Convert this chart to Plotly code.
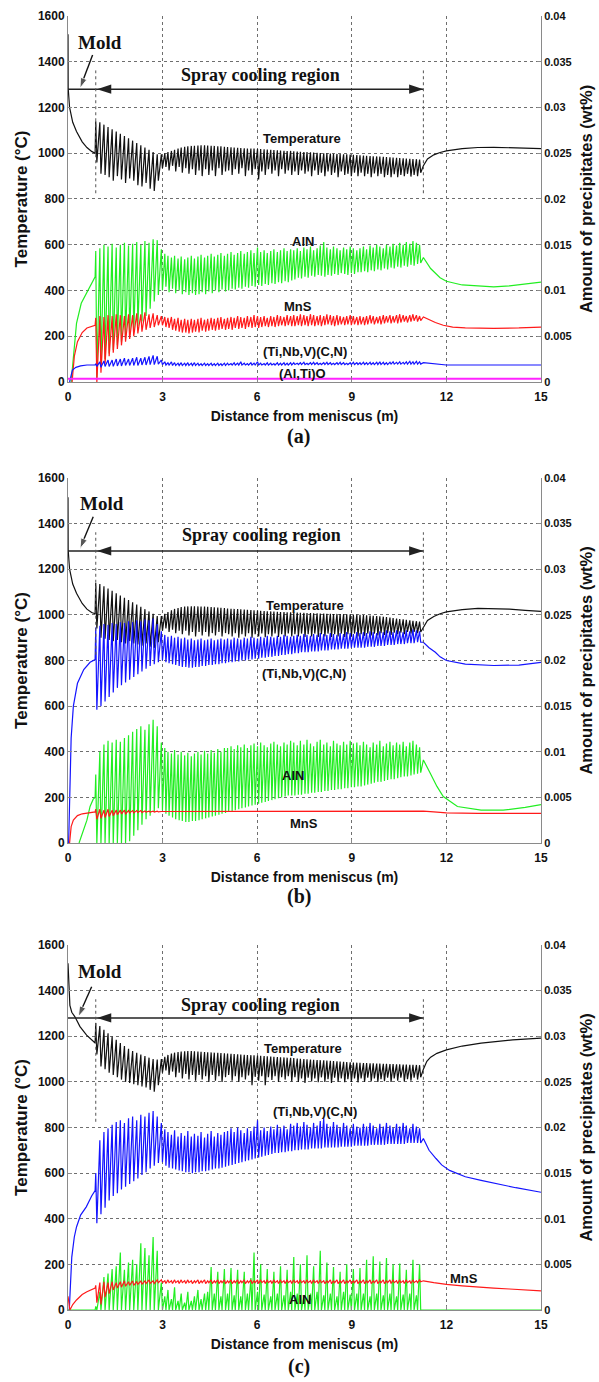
import plotly.graph_objects as go

# ---------------- data ----------------
# roll / spray-nozzle positions (m) inside the spray cooling region
ROLL_X = [0.88, 1.01, 1.14, 1.27, 1.40, 1.53, 1.66, 1.79, 1.92, 2.05, 2.18, 2.31, 2.44, 2.57, 2.70, 2.83,
          2.96, 3.07, 3.17, 3.28, 3.38, 3.49, 3.59, 3.70, 3.80, 3.91, 4.01, 4.12, 4.22, 4.33, 4.43, 4.54, 4.64, 4.75, 4.85, 4.96,
          5.06, 5.17, 5.27, 5.38, 5.48, 5.59, 5.69, 5.80, 5.90, 6.01, 6.11, 6.22, 6.32, 6.43, 6.53, 6.64, 6.74, 6.85, 6.95, 7.06,
          7.16, 7.27, 7.37, 7.48, 7.58, 7.69, 7.79, 7.90, 8.00, 8.11, 8.21, 8.32, 8.42, 8.53, 8.63, 8.74, 8.84, 8.95, 9.05, 9.16,
          9.26, 9.37, 9.47, 9.58, 9.68, 9.79, 9.89, 10.00, 10.10, 10.21, 10.31, 10.42, 10.52, 10.63, 10.73, 10.84, 10.94, 11.05, 11.15]
DX = 0.035          # offset of the dip after each roll
SPRAY_START = 0.88
SPRAY_END = 11.27
ARROW_Y = 1280

X_TICKS = [0, 3, 6, 9, 12, 15]
T_TICKS = [0, 200, 400, 600, 800, 1000, 1200, 1400, 1600]
P_TICKS = [0, 0.005, 0.01, 0.015, 0.02, 0.025, 0.03, 0.035, 0.04]
P_TICKTEXT = ["0", "0.005", "0.01", "0.015", "0.02", "0.025", "0.03", "0.035", "0.04"]

# ----- panel (a) -----  temperatures in degC, precipitates in 1e-4 wt%
TEMP_A_PRE_X = [0, 0.005, 0.05, 0.15, 0.27, 0.45, 0.6, 0.75, 0.86]
TEMP_A_PRE_Y = [1520, 1285, 1200, 1135, 1095, 1050, 1025, 1008, 1000]
TEMP_A_PEAK = [1140, 1135, 1125, 1115, 1105, 1095, 1085, 1075, 1065, 1055, 1045, 1035, 1025, 1015, 1005, 995,
               995, 1000, 1005, 1010, 1015, 1020, 1025, 1028, 1030, 1032, 1033, 1034, 1035, 1035, 1034, 1033, 1032, 1030, 1030, 1028,
               1027, 1026, 1025, 1024, 1023, 1022, 1021, 1020, 1020, 1019, 1018, 1017, 1016, 1015, 1014, 1013, 1012, 1011, 1010, 1010,
               1008, 1007, 1006, 1005, 1005, 1004, 1003, 1002, 1001, 1000, 1000, 999, 998, 997, 996, 995, 995, 994, 993, 992,
               991, 990, 989, 988, 987, 986, 985, 984, 983, 982, 981, 980, 979, 978, 977, 976, 975, 974, 972]
TEMP_A_TROUGH = [960, 910, 905, 895, 880, 900, 885, 870, 890, 880, 860, 855, 870, 845, 835, 880,
                 935, 940, 925, 945, 920, 940, 915, 935, 910, 930, 905, 925, 900, 930, 905, 925, 900, 935, 905, 920,
                 925, 905, 930, 910, 935, 900, 925, 905, 930, 885, 920, 905, 930, 910, 925, 900, 930, 910, 925, 905,
                 920, 905, 925, 910, 920, 900, 925, 905, 915, 900, 920, 905, 915, 895, 920, 905, 910, 900, 915, 900,
                 915, 900, 910, 895, 912, 900, 910, 895, 905, 895, 908, 895, 905, 900, 910, 898, 905, 900, 915]
TEMP_A_POST_X = [11.27, 11.4, 11.6, 11.8, 12.0, 12.5, 13.0, 13.5, 14.0, 14.5, 15.0]
TEMP_A_POST_Y = [945, 975, 993, 1003, 1010, 1020, 1025, 1026, 1025, 1022, 1020]

ALN_A_PRE_X = [0.10, 0.18, 0.27, 0.42, 0.63, 0.86]
ALN_A_PRE_Y = [0, 35, 64, 86, 100, 115]
ALN_A_PEAK = [143, 146, 150, 148, 151, 147, 150, 152, 149, 151, 153, 150, 154, 152, 156, 155,
              145, 140, 138, 136, 138, 135, 137, 134, 136, 138, 135, 137, 139, 136, 138, 140, 137, 139, 141, 138,
              140, 142, 139, 141, 143, 140, 142, 144, 141, 147, 142, 144, 141, 143, 145, 142, 144, 146, 143, 145,
              144, 146, 143, 147, 145, 148, 144, 146, 149, 153, 147, 145, 148, 146, 144, 147, 145, 148, 146, 144,
              146, 148, 145, 149, 147, 150, 148, 146, 150, 148, 151, 149, 152, 150, 153, 151, 154, 152, 150]
ALN_A_TROUGH = [5, 18, 25, 31, 35, 40, 44, 48, 51, 55, 61, 66, 72, 80, 88, 95,
                100, 104, 98, 102, 97, 100, 96, 98, 95, 97, 95, 96, 98, 96, 99, 97, 100, 98, 101, 99,
                100, 102, 101, 103, 102, 104, 103, 105, 104, 106, 105, 107, 106, 108, 107, 109, 108, 110, 109, 111,
                112, 114, 113, 115, 114, 116, 115, 117, 116, 115, 117, 116, 118, 117, 119, 118, 117, 119, 118, 120,
                120, 121, 120, 122, 121, 123, 122, 124, 123, 125, 124, 126, 125, 127, 126, 128, 127, 129, 130]
ALN_A_POST_X = [11.27, 11.5, 11.8, 12.0, 12.5, 13.0, 13.5, 14.0, 14.5, 15.0]
ALN_A_POST_Y = [136, 124, 114, 110, 106, 105, 104, 105, 107, 109]

MNS_A_PRE_X = [0.13, 0.2, 0.3, 0.45, 0.6, 0.86]
MNS_A_PRE_Y = [0, 28, 44, 54, 59, 62]
MNS_A_PEAK = [70, 72, 71, 73, 72, 74, 73, 72, 74, 73, 75, 74, 76, 74, 75, 73,
              72, 71, 70, 71, 69, 70, 68, 69, 68, 69, 68, 69, 70, 68, 69, 70, 69, 70, 71, 69,
              70, 71, 70, 72, 71, 70, 72, 71, 73, 72, 71, 72, 70, 72, 71, 73, 72, 71, 73, 72,
              73, 72, 74, 73, 72, 74, 73, 72, 73, 72, 74, 73, 72, 73, 72, 71, 72, 73, 72, 71,
              72, 71, 72, 73, 72, 71, 72, 73, 72, 73, 72, 73, 74, 73, 72, 73, 74, 73, 72]
MNS_A_TROUGH = [0, 10, 20, 28, 32, 36, 40, 44, 47, 50, 53, 55, 57, 59, 60, 62,
                62, 60, 59, 57, 56, 55, 54, 54, 53, 54, 55, 54, 56, 55, 56, 57, 56, 57, 58, 57,
                58, 57, 59, 58, 59, 58, 60, 59, 60, 59, 60, 61, 60, 61, 60, 61, 62, 61, 62, 61,
                61, 62, 61, 62, 61, 62, 61, 62, 61, 62, 63, 62, 61, 62, 63, 62, 63, 62, 63, 62,
                63, 62, 63, 64, 63, 64, 63, 64, 65, 64, 65, 64, 65, 66, 65, 66, 67, 66, 67]
MNS_A_POST_X = [11.27, 11.45, 11.65, 11.9, 12.2, 12.6, 13.5, 14.3, 15.0]
MNS_A_POST_Y = [71, 68, 65, 62, 60, 59, 58.5, 59, 60]

TINBV_A_PRE_X = [0.05, 0.1, 0.14, 0.25, 0.4, 0.6, 0.86]
TINBV_A_PRE_Y = [0, 8, 13, 16, 17.5, 18.5, 18.5]
TINBV_A_PEAK = [20, 22, 23, 24, 24, 25, 25, 26, 25, 26, 27, 26, 27, 28, 29, 28,
                24, 22, 21, 22, 21, 20.5, 21, 20.5, 21, 20.5, 21, 20.5, 20, 20.5, 20, 20.5, 20, 20.5, 20, 20.5,
                20.5, 20, 21, 20.5, 22, 20.5, 20, 21, 20.5, 22, 20.5, 20, 21, 20.5, 20, 21, 20.5, 21, 20.5, 21,
                21, 20.5, 21, 21.5, 20.5, 21, 21.5, 21, 20.5, 21, 21.5, 21, 20.5, 21, 21.5, 21, 20.5, 21, 21.5, 21,
                21, 21.5, 21, 21.5, 21, 21.5, 22, 21.5, 21, 21.5, 22, 21.5, 22, 21.5, 22, 22.5, 22, 22.5, 22]
TINBV_A_TROUGH = [17, 16, 17, 17, 17, 17.5, 17.5, 18, 18, 18, 18, 18.5, 18.5, 19, 19, 19.5,
                  19, 18.5, 18.5, 18, 18, 18, 18, 18, 18, 18, 18, 18, 18, 18, 18, 18, 18, 18, 18, 18,
                  18.5, 18.5, 18.5, 18.5, 18.5, 18.5, 18.5, 18.5, 18.5, 18.5, 18.5, 18.5, 18.5, 18.5, 18.5, 18.5, 18.5, 18.5, 18.5, 18.5,
                  19, 19, 19, 19, 19, 19, 19, 19, 19, 19, 19, 19, 19, 19, 19, 19, 19, 19, 19, 19,
                  19, 19, 19, 19, 19, 19, 19, 19, 19, 19.5, 19.5, 19.5, 19.5, 19.5, 19.5, 19.5, 19.5, 19.5, 19.5]
TINBV_A_POST_X = [11.27, 11.5, 11.8, 12.0, 15.0]
TINBV_A_POST_Y = [21, 20, 19, 18.5, 18.5]

ALTIO_A_X = [0, 15]
ALTIO_A_Y = [3.5, 3.5]

# ----- panel (b) -----
TEMP_B_PRE_X = [0, 0.005, 0.05, 0.15, 0.27, 0.45, 0.6, 0.75, 0.86]
TEMP_B_PRE_Y = [1515, 1285, 1200, 1135, 1095, 1050, 1025, 1010, 1005]
TEMP_B_PEAK = [1140, 1135, 1125, 1115, 1105, 1095, 1085, 1075, 1065, 1055, 1045, 1035, 1025, 1015, 1005, 995,
               995, 1005, 1012, 1020, 1026, 1030, 1034, 1036, 1037, 1038, 1038, 1037, 1036, 1036, 1035, 1034, 1033, 1032, 1031, 1030,
               1028, 1027, 1026, 1025, 1024, 1023, 1022, 1021, 1020, 1019, 1018, 1017, 1016, 1015, 1014, 1013, 1012, 1012, 1011, 1011,
               1010, 1010, 1009, 1009, 1008, 1008, 1007, 1007, 1006, 1006, 1005, 1005, 1004, 1004, 1003, 1003, 1002, 1002, 1001, 1001,
               1000, 999, 998, 997, 996, 995, 994, 992, 990, 988, 986, 984, 982, 980, 978, 976, 974, 972, 970]
TEMP_B_TROUGH = [940, 900, 895, 890, 885, 890, 880, 875, 885, 875, 870, 865, 875, 860, 855, 880,
                 930, 940, 925, 935, 920, 930, 915, 930, 910, 925, 905, 925, 910, 925, 905, 920, 910, 925, 905, 920,
                 915, 905, 920, 900, 915, 905, 920, 900, 915, 905, 918, 902, 915, 905, 918, 903, 915, 905, 918, 905,
                 915, 905, 918, 903, 915, 905, 918, 903, 915, 905, 918, 903, 915, 905, 918, 903, 915, 905, 918, 905,
                 915, 908, 918, 910, 918, 910, 920, 912, 920, 912, 922, 915, 922, 915, 925, 918, 925, 920, 925]
TEMP_B_POST_X = [11.27, 11.4, 11.6, 11.8, 12.0, 12.5, 13.0, 13.5, 14.0, 14.5, 15.0]
TEMP_B_POST_Y = [945, 975, 993, 1005, 1013, 1023, 1028, 1028, 1025, 1020, 1015]

TINBV_B_PRE_X = [0.02, 0.06, 0.1, 0.17, 0.3, 0.5, 0.7, 0.86]
TINBV_B_PRE_Y = [0, 75, 115, 150, 175, 190, 198, 201]
TINBV_B_PEAK = [236, 238, 240, 239, 241, 240, 242, 241, 243, 242, 244, 243, 245, 244, 246, 240,
                232, 228, 226, 227, 225, 226, 224, 225, 223, 224, 222, 223, 224, 222, 223, 224, 222, 223, 224, 223,
                224, 223, 225, 224, 223, 225, 224, 226, 225, 224, 226, 225, 227, 226, 225, 227, 226, 228, 227, 226,
                227, 228, 227, 229, 228, 227, 229, 228, 230, 229, 228, 230, 229, 228, 230, 229, 231, 230, 229, 231,
                230, 231, 230, 232, 231, 230, 232, 231, 233, 232, 231, 233, 232, 231, 233, 232, 234, 233, 232]
TINBV_B_TROUGH = [146, 150, 155, 160, 165, 170, 173, 176, 179, 182, 185, 188, 191, 194, 196, 198,
                  200, 198, 197, 196, 195, 194, 193, 193, 192, 192, 193, 193, 194, 194, 195, 195, 196, 196, 197, 197,
                  198, 198, 199, 199, 200, 200, 201, 201, 202, 202, 203, 203, 204, 204, 205, 205, 206, 206, 207, 207,
                  208, 208, 209, 209, 209, 210, 210, 210, 211, 211, 211, 212, 212, 212, 213, 213, 213, 214, 214, 214,
                  214, 214, 215, 215, 215, 216, 216, 216, 217, 217, 217, 218, 218, 218, 219, 219, 219, 220, 220]
TINBV_B_POST_X = [11.27, 11.45, 11.65, 11.8, 12.0, 12.6, 13.5, 14.3, 15.0]
TINBV_B_POST_Y = [220, 214, 209, 204, 200, 196, 194.5, 195, 198]

ALN_B_PRE_X = [0.35, 0.45, 0.6, 0.7, 0.8, 0.86]
ALN_B_PRE_Y = [0, 10, 25, 40, 48, 50]
ALN_B_PEAK = [75, 100, 108, 112, 110, 113, 111, 115, 118, 122, 125, 128, 124, 130, 135, 128,
              110, 104, 100, 98, 102, 97, 100, 96, 99, 95, 98, 100, 97, 101, 98, 102, 99, 103, 100, 104,
              104, 106, 103, 107, 105, 108, 104, 107, 109, 106, 110, 107, 105, 109, 111, 108, 106, 110, 108, 112,
              110, 107, 112, 108, 113, 109, 106, 111, 113, 108, 110, 106, 112, 109, 107, 111, 108, 112, 109, 110,
              107, 111, 108, 105, 110, 108, 112, 106, 109, 111, 107, 110, 108, 111, 106, 110, 112, 108, 105]
ALN_B_TROUGH = [0, 0, 0, 0, 0, 0, 0, 0, 2, 8, 14, 20, 26, 30, 34, 38,
                36, 32, 30, 28, 26, 25, 24, 23, 23, 24, 24, 25, 26, 27, 28, 29, 30, 31, 32, 33,
                34, 35, 36, 37, 38, 39, 40, 41, 42, 43, 44, 45, 46, 47, 48, 49, 50, 51, 52, 52,
                52, 53, 53, 54, 54, 55, 55, 56, 56, 57, 57, 58, 58, 59, 59, 60, 60, 61, 61, 62,
                62, 63, 64, 65, 66, 67, 67, 68, 69, 70, 70, 71, 72, 73, 73, 74, 75, 76, 77]
ALN_B_POST_X = [11.27, 11.48, 11.7, 11.9, 12.35, 13.1, 13.8, 14.5, 15.0]
ALN_B_POST_Y = [91, 77, 62, 51, 40, 36, 36, 39, 42]

MNS_B_PRE_X = [0.05, 0.1, 0.17, 0.3, 0.45, 0.6, 0.86]
MNS_B_PRE_Y = [0, 18, 25, 30, 32, 33, 34]
MNS_B_PEAK = [37, 37, 36, 37, 36, 36, 36, 36, 35.5, 35.5, 35.5, 35.5, 35, 35, 35, 35]
MNS_B_TROUGH = [26, 27, 28, 29, 30, 31, 32, 32, 33, 33, 33.5, 33.5, 34, 34, 34, 34]
MNS_B_POST_X = [2.96, 4, 5, 6, 7, 8, 9, 10, 11, 11.27, 11.6, 12, 13, 14, 15]
MNS_B_POST_Y = [34.5, 34.5, 34.5, 34.5, 34.5, 34.5, 35, 35, 35, 35, 34, 33, 32.5, 32.5, 32.5]

# ----- panel (c) -----
TEMP_C_PRE_X = [0, 0.03, 0.06, 0.12, 0.22, 0.38, 0.59, 0.86]
TEMP_C_PRE_Y = [1520, 1420, 1335, 1305, 1285, 1242, 1205, 1170]
TEMP_C_PEAK = [1258, 1245, 1228, 1213, 1199, 1184, 1170, 1157, 1145, 1135, 1127, 1120, 1113, 1106, 1100, 1098,
               1100, 1110, 1118, 1124, 1128, 1131, 1133, 1134, 1135, 1135, 1134, 1133, 1132, 1131, 1130, 1129, 1128, 1127, 1126, 1125,
               1124, 1123, 1122, 1121, 1120, 1119, 1118, 1117, 1116, 1115, 1114, 1113, 1112, 1111, 1110, 1109, 1108, 1107, 1106, 1105,
               1104, 1102, 1101, 1100, 1099, 1098, 1097, 1096, 1095, 1094, 1093, 1092, 1091, 1090, 1089, 1088, 1087, 1086, 1085, 1084,
               1083, 1082, 1082, 1081, 1081, 1080, 1080, 1079, 1079, 1078, 1078, 1077, 1077, 1076, 1076, 1075, 1075, 1074, 1073]
TEMP_C_TROUGH = [1120, 1067, 1055, 1040, 1030, 1020, 1010, 1000, 995, 990, 985, 980, 975, 965, 957, 985,
                 1040, 1050, 1030, 1045, 1020, 1040, 1015, 1035, 1010, 1030, 1005, 1030, 1010, 1025, 1000, 1030, 1005, 1025, 1000, 1020,
                 1030, 1005, 1025, 1000, 1020, 1010, 1028, 985, 1022, 1005, 1025, 985, 1020, 1008, 1025, 1000, 1020, 1010, 1025, 1002,
                 1020, 1000, 1015, 995, 1018, 1002, 1015, 998, 1020, 1000, 1012, 995, 1018, 1000, 1015, 998, 1012, 1000, 1015, 998,
                 1015, 1000, 1018, 1002, 1015, 1000, 1012, 1003, 1018, 1000, 1015, 1005, 1018, 1002, 1012, 1005, 1018, 1010, 1020]
TEMP_C_POST_X = [11.27, 11.38, 11.5, 11.7, 12.0, 12.5, 13.1, 14.1, 15.0]
TEMP_C_POST_Y = [1055, 1090, 1108, 1125, 1140, 1157, 1170, 1184, 1192]

TINBV_C_PRE_X = [0.04, 0.08, 0.12, 0.2, 0.27, 0.4, 0.58, 0.75, 0.86]
TINBV_C_PRE_Y = [0, 38, 58, 80, 91, 104, 113, 125, 131]
TINBV_C_PEAK = [150, 186, 195, 199, 203, 206, 208, 205, 210, 212, 208, 214, 212, 216, 218, 212,
                205, 198, 195, 192, 197, 190, 194, 191, 196, 190, 193, 191, 195, 189, 193, 196, 190, 194, 192, 195,
                196, 199, 195, 200, 197, 194, 199, 196, 201, 208, 197, 200, 196, 201, 198, 203, 199, 202, 198, 204,
                202, 205, 201, 206, 203, 200, 205, 202, 207, 210, 204, 201, 206, 203, 200, 205, 202, 199, 204, 201,
                200, 204, 201, 205, 202, 199, 204, 201, 205, 202, 200, 204, 201, 205, 202, 199, 204, 201, 199]
TINBV_C_TROUGH = [95, 105, 112, 120, 125, 128, 132, 135, 138, 141, 144, 148, 151, 155, 158, 161,
                  162, 158, 156, 155, 154, 153, 152, 151, 151, 150, 151, 151, 152, 152, 153, 154, 155, 155, 156, 157,
                  158, 159, 160, 161, 162, 163, 164, 165, 166, 167, 168, 169, 170, 171, 172, 172, 173, 173, 174, 174,
                  175, 175, 176, 176, 176, 177, 177, 177, 177, 178, 178, 178, 178, 178, 179, 179, 179, 179, 180, 180,
                  180, 180, 180, 181, 181, 181, 181, 181, 182, 182, 182, 182, 182, 182, 183, 183, 183, 183, 183]
TINBV_C_POST_X = [11.27, 11.45, 11.67, 11.85, 12.1, 12.6, 13.1, 13.6, 14.2, 15.0]
TINBV_C_POST_Y = [188, 175, 166, 159, 153, 146, 142, 138, 134, 129]

ALN_C_PRE_X = [0, 0.86]
ALN_C_PRE_Y = [0, 0]
ALN_C_PEAK = [4, 20, 36, 40, 45, 48, 63, 44, 52, 55, 50, 73, 68, 60, 80, 65,
              30, 15, 22, 12, 25, 10, 18, 8, 20, 10, 15, 22, 12, 18, 20, 47, 18, 42, 15, 45,
              18, 46, 16, 44, 15, 42, 18, 35, 63, 20, 50, 17, 45, 15, 42, 18, 48, 16, 44, 20,
              58, 18, 50, 15, 60, 18, 48, 20, 65, 16, 52, 18, 47, 15, 42, 20, 50, 17, 45, 18,
              46, 18, 55, 15, 59, 18, 53, 16, 57, 18, 50, 15, 51, 17, 44, 18, 55, 16, 50]
ALN_C_TROUGH = [0, 0, 0, 0, 0, 0, 0, 0, 0, 0, 0, 0, 0, 0, 0, 0,
                0, 0, 0, 0, 0, 0, 0, 0, 0, 0, 0, 0, 0, 0, 0, 0, 0, 0, 0, 0,
                0, 0, 0, 0, 0, 0, 0, 0, 0, 0, 0, 0, 0, 0, 0, 0, 0, 0, 0, 0,
                0, 0, 0, 0, 0, 0, 0, 0, 0, 0, 0, 0, 0, 0, 0, 0, 0, 0, 0, 0,
                0, 0, 0, 0, 0, 0, 0, 0, 0, 0, 0, 0, 0, 0, 0, 0, 0, 0, 0]
ALN_C_POST_X = [11.27, 15.0]
ALN_C_POST_Y = [0, 0]

MNS_C_PRE_X = [0, 0.03, 0.06, 0.15, 0.27, 0.45, 0.6, 0.86]
MNS_C_PRE_Y = [15, 5, 0, 6, 11, 17, 20, 24]
MNS_C_PEAK = [27, 30, 31, 30, 31, 30, 31, 32, 31, 32, 31, 32, 32, 33, 32, 33,
              33, 32, 33, 32, 33, 32, 33, 32, 33, 32, 32, 33, 32, 33, 32, 33, 32, 33, 32, 33,
              32, 33, 32, 33, 32, 33, 32, 33, 32, 33, 33, 32, 33, 32, 33, 32, 33, 32, 33, 32,
              33, 32, 33, 32, 33, 32, 33, 32, 33, 32, 32, 33, 32, 33, 32, 33, 32, 33, 32, 33,
              32, 33, 32, 33, 32, 33, 32, 33, 32, 33, 33, 32, 33, 32, 33, 32, 33, 32, 33]
MNS_C_TROUGH = [8, 6, 14, 18, 22, 24, 25, 26, 27, 27, 28, 28, 29, 29, 29, 30,
                30, 29, 30, 29, 30, 29, 30, 29, 30, 29, 30, 29, 30, 29, 30, 29, 30, 29, 30, 29,
                30, 29, 30, 29, 30, 29, 30, 29, 30, 29, 30, 29, 30, 29, 30, 29, 30, 29, 30, 29,
                30, 29, 30, 29, 30, 29, 30, 29, 30, 29, 30, 29, 30, 29, 30, 29, 30, 29, 30, 29,
                30, 29, 30, 29, 30, 29, 30, 29, 30, 29, 30, 29, 30, 29, 30, 29, 30, 30, 31]
MNS_C_POST_X = [11.27, 11.6, 12.0, 12.5, 13.0, 13.5, 14.0, 14.5, 15.0]
MNS_C_POST_Y = [32, 30, 28, 26.5, 25, 24, 23, 22, 21]

# ---------------- building ----------------
PREC_UNIT = 1e-4  # precipitate lists are in units of 1e-4 wt%


def series(name, pre_x, pre_y, peaks, troughs, post_x, post_y, unit=1.0, full=True):
    if len(peaks) != len(troughs) or (full and len(peaks) != len(ROLL_X)):
        raise ValueError("length mismatch in %s: %d %d" % (name, len(peaks), len(troughs)))
    xs, ys = list(pre_x), list(pre_y)
    for xr, p, t in zip(ROLL_X, peaks, troughs):
        xs += [xr, round(xr + DX, 3)]
        ys += [p, t]
    xs += list(post_x)
    ys += list(post_y)
    return xs, [v * unit for v in ys]


SANS = "Liberation Sans, Arial, sans-serif"
SERIF = "Liberation Serif, Times New Roman, serif"
BLACK, GREEN, RED, BLUE, MAGENTA = "#111111", "#22ee22", "#ff1a1a", "#1414ff", "#ff22ff"
AXC, GRIDC = "#8a8a8a", "#6e6e6e"

fig = go.Figure()

PANELS = [
    dict(xa="x", ya="y", yb="y2", dom=[0.7172, 1.0], letter="(a)",
         temp=("Ta", TEMP_A_PRE_X, TEMP_A_PRE_Y, TEMP_A_PEAK, TEMP_A_TROUGH, TEMP_A_POST_X, TEMP_A_POST_Y),
         prec=[("AlN a", GREEN, (ALN_A_PRE_X, ALN_A_PRE_Y, ALN_A_PEAK, ALN_A_TROUGH, ALN_A_POST_X, ALN_A_POST_Y), True),
               ("MnS a", RED, (MNS_A_PRE_X, MNS_A_PRE_Y, MNS_A_PEAK, MNS_A_TROUGH, MNS_A_POST_X, MNS_A_POST_Y), True),
               ("TiNbV a", BLUE, (TINBV_A_PRE_X, TINBV_A_PRE_Y, TINBV_A_PEAK, TINBV_A_TROUGH, TINBV_A_POST_X, TINBV_A_POST_Y), True),
               ("AlTiO a", MAGENTA, (ALTIO_A_X, ALTIO_A_Y, [], [], [], []), False)],
         labels=[("Temperature", 7.43, 1066), ("AlN", 7.46, 613), ("MnS", 7.3, 329),
                 ("(Ti,Nb,V)(C,N)", 7.5, 132), ("(Al,Ti)O", 7.45, 36)],
         mold=((1.02, 1482), (0.78, 1430), (0.38, 1284)), spray=(6.11, 1342), ylet=0.6747),
    dict(xa="x2", ya="y3", yb="y4", dom=[0.3609, 0.6430], letter="(b)",
         temp=("Tb", TEMP_B_PRE_X, TEMP_B_PRE_Y, TEMP_B_PEAK, TEMP_B_TROUGH, TEMP_B_POST_X, TEMP_B_POST_Y),
         prec=[("TiNbV b", BLUE, (TINBV_B_PRE_X, TINBV_B_PRE_Y, TINBV_B_PEAK, TINBV_B_TROUGH, TINBV_B_POST_X, TINBV_B_POST_Y), True),
               ("AlN b", GREEN, (ALN_B_PRE_X, ALN_B_PRE_Y, ALN_B_PEAK, ALN_B_TROUGH, ALN_B_POST_X, ALN_B_POST_Y), True),
               ("MnS b", RED, (MNS_B_PRE_X, MNS_B_PRE_Y, MNS_B_PEAK, MNS_B_TROUGH, MNS_B_POST_X, MNS_B_POST_Y), False)],
         labels=[("Temperature", 7.52, 1043), ("(Ti,Nb,V)(C,N)", 7.49, 743), ("AlN", 7.12, 298),
                 ("MnS", 7.49, 86)],
         mold=((1.07, 1490), (0.8, 1430), (0.38, 1290)), spray=(6.14, 1350), ylet=0.3192),
    dict(xa="x3", ya="y5", yb="y6", dom=[0.0, 0.2821], letter="(c)",
         temp=("Tc", TEMP_C_PRE_X, TEMP_C_PRE_Y, TEMP_C_PEAK, TEMP_C_TROUGH, TEMP_C_POST_X, TEMP_C_POST_Y),
         prec=[("TiNbV c", BLUE, (TINBV_C_PRE_X, TINBV_C_PRE_Y, TINBV_C_PEAK, TINBV_C_TROUGH, TINBV_C_POST_X, TINBV_C_POST_Y), True),
               ("AlN c", GREEN, (ALN_C_PRE_X, ALN_C_PRE_Y, ALN_C_PEAK, ALN_C_TROUGH, ALN_C_POST_X, ALN_C_POST_Y), True),
               ("MnS c", RED, (MNS_C_PRE_X, MNS_C_PRE_Y, MNS_C_PEAK, MNS_C_TROUGH, MNS_C_POST_X, MNS_C_POST_Y), True)],
         labels=[("Temperature", 7.45, 1147), ("(Ti,Nb,V)(C,N)", 7.82, 869), ("AlN", 7.36, 47),
                 ("MnS", 12.56, 139)],
         mold=((1.02, 1483), (0.75, 1417), (0.33, 1286)), spray=(6.1, 1337), ylet=-0.044),
]

annotations = []
shapes = []
tickfont = dict(family=SANS, size=12, color="#111111", weight="bold")

for i, p in enumerate(PANELS):
    name, *args = p["temp"]
    tx, ty = series(name, *args)
    fig.add_trace(go.Scatter(x=tx, y=ty, mode="lines", xaxis=p["xa"], yaxis=p["ya"],
                             line=dict(color=BLACK, width=1.2), showlegend=False, hoverinfo="skip"))
    for nm, col, a, full in p["prec"]:
        px_, py_ = series(nm, *a, unit=PREC_UNIT, full=full)
        fig.add_trace(go.Scatter(x=px_, y=py_, mode="lines", xaxis=p["xa"], yaxis=p["yb"],
                                 line=dict(color=col, width=2.2 if nm.startswith("AlTiO") else 1.2),
                                 showlegend=False, hoverinfo="skip"))

    xref, yref = p["xa"], p["ya"]
    for txt, lx, ly in p["labels"]:
        annotations.append(dict(x=lx, y=ly, xref=xref, yref=yref, text=txt, showarrow=False,
                                font=dict(family=SANS, size=13, color="#111111", weight="bold")))
    (mtx, mty), (atx, aty), (ahx, ahy) = p["mold"]
    annotations.append(dict(x=mtx, y=mty, xref=xref, yref=yref, text="Mold", showarrow=False,
                            font=dict(family=SERIF, size=19, color="#111111", weight="bold")))
    # Mold pointer: line with an arrow marker oriented along the segment
    fig.add_trace(go.Scatter(x=[atx, ahx], y=[aty, ahy], mode="lines+markers", xaxis=xref, yaxis=yref,
                             line=dict(color="#111111", width=1.4),
                             marker=dict(symbol="arrow", size=[0, 11], angleref="previous", color="#111111"),
                             showlegend=False, hoverinfo="skip"))
    sx, sy = p["spray"]
    annotations.append(dict(x=sx, y=sy, xref=xref, yref=yref, text="Spray cooling region", showarrow=False,
                            font=dict(family=SERIF, size=18, color="#111111", weight="bold")))
    # double arrow of the spray region
    shapes.append(dict(type="line", xref=xref, yref=yref, x0=0, x1=SPRAY_END, y0=ARROW_Y, y1=ARROW_Y,
                       line=dict(color="#222222", width=1.6)))
    fig.add_trace(go.Scatter(x=[SPRAY_START + 0.04, SPRAY_END], y=[ARROW_Y, ARROW_Y], mode="markers",
                             xaxis=xref, yaxis=yref,
                             marker=dict(symbol="arrow", size=15, angle=[-90, 90], color="#222222"),
                             showlegend=False, hoverinfo="skip"))
    for vx in (SPRAY_START, SPRAY_END):
        shapes.append(dict(type="line", xref=xref, yref=yref, x0=vx, x1=vx, y0=825, y1=1362,
                           line=dict(color="#555555", width=1, dash="dot")))
    annotations.append(dict(x=0.488, y=p["ylet"], xref="paper", yref="paper",
                            text=p["letter"], showarrow=False, xanchor="center", yanchor="middle",
                            font=dict(family=SERIF, size=20, color="#111111", weight="bold")))

    common = dict(showline=True, linecolor=AXC, linewidth=1, ticks="inside", ticklen=4, tickcolor=AXC,
                  tickfont=tickfont, zeroline=False, automargin=False)
    xkey = "xaxis" if i == 0 else "xaxis%d" % (i + 1)
    ykey = "yaxis" if i == 0 else "yaxis%d" % (2 * i + 1)
    y2key = "yaxis%d" % (2 * i + 2)
    fig.update_layout(**{
        xkey: dict(domain=[0, 1], anchor=p["ya"], range=[0, 15], tickvals=X_TICKS, ticklabelstandoff=4,
                   showgrid=True, gridcolor=GRIDC, griddash="dot", gridwidth=1,
                   title=dict(text="Distance from meniscus (m)", standoff=7,
                              font=dict(family=SANS, size=14, color="#111111", weight="bold")),
                   **common),
        ykey: dict(domain=p["dom"], anchor=p["xa"], range=[0, 1600], tickvals=T_TICKS,
                   showgrid=True, gridcolor=GRIDC, griddash="dot", gridwidth=1,
                   title=dict(text="Temperature (°C)", standoff=5,
                              font=dict(family=SANS, size=17, color="#111111", weight="bold")),
                   **common),
        y2key: dict(overlaying=p["ya"], side="right", anchor=p["xa"], range=[0, 0.04],
                    tickvals=P_TICKS, ticktext=P_TICKTEXT, showgrid=False,
                    title=dict(text="Amount of precipitates (wt%)", standoff=9,
                               font=dict(family=SANS, size=16.5, color="#111111", weight="bold")),
                    **{**common, "tickfont": dict(family=SANS, size=11, color="#111111", weight="bold")}),
    })

fig.update_layout(width=599, height=1382, margin=dict(l=68, r=58, t=16, b=72, autoexpand=False),
                  paper_bgcolor="white", plot_bgcolor="white", showlegend=False,
                  annotations=annotations, shapes=shapes)

fig.write_html("out.html")
